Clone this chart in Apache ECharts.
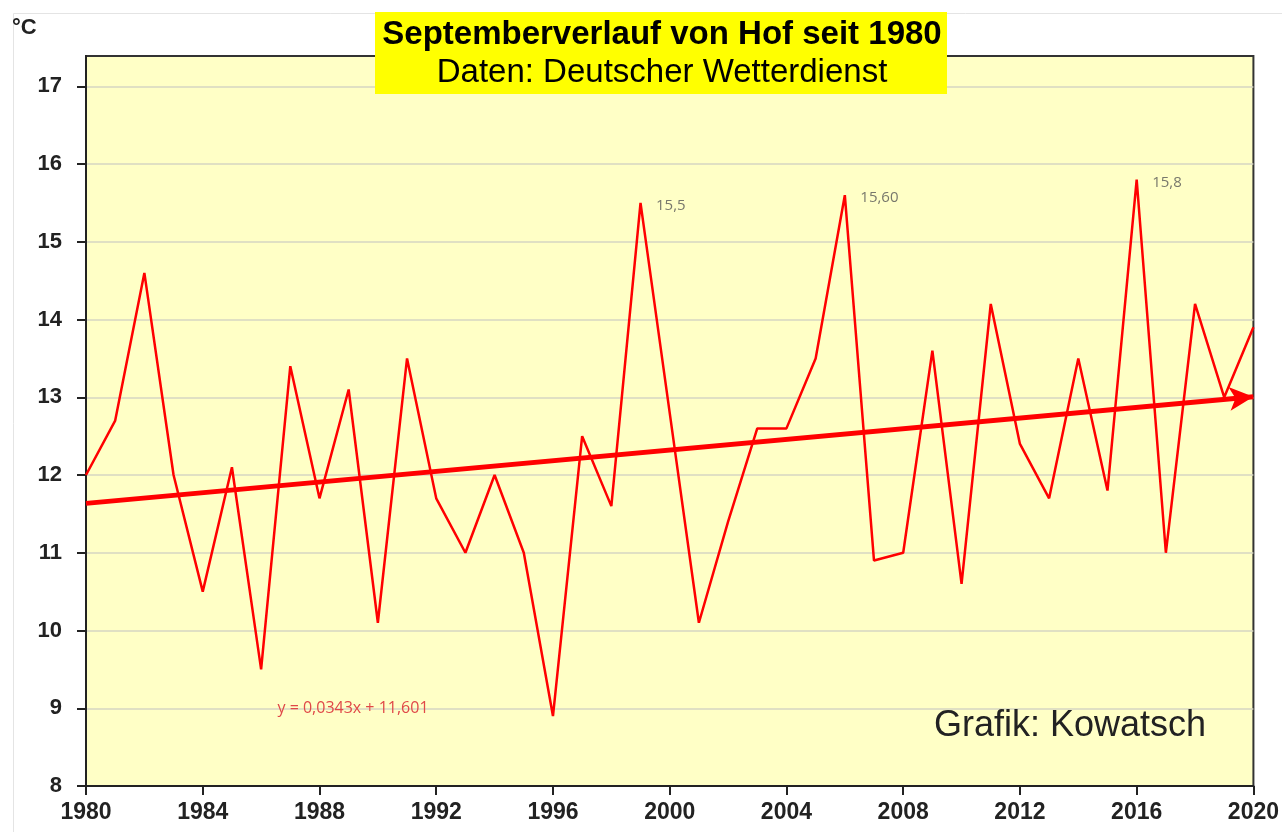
<!DOCTYPE html>
<html>
<head>
<meta charset="utf-8">
<script src="https://cdn.jsdelivr.net/npm/echarts@6/dist/echarts.min.js"></script>
<style>
html,body{margin:0;padding:0;background:#fff;}
#chart{width:1282px;height:832px;}
</style>
</head>
<body>
<div id="chart"></div>
<script>
// ---- data ----
const years = [1980,1981,1982,1983,1984,1985,1986,1987,1988,1989,
               1990,1991,1992,1993,1994,1995,1996,1997,1998,1999,
               2000,2001,2002,2003,2004,2005,2006,2007,2008,2009,
               2010,2011,2012,2013,2014,2015,2016,2017,2018,2019,2020];
const temps = [12.0,12.7,14.6,12.0,10.5,12.1,9.5,13.4,11.7,13.1,
               10.1,13.5,11.7,11.0,12.0,11.0,8.9,12.5,11.6,15.5,
               12.8,10.1,11.4,12.6,12.6,13.5,15.6,10.9,11.0,13.6,
               10.6,14.2,12.4,11.7,13.5,11.8,15.8,11.0,14.2,13.0,13.9];
const peakLabelYears = [1999, 2006, 2016];
const peakLabelTexts = ['15,5', '15,60', '15,8'];
const trendSlope = 0.0343;
const trendIntercept = 11.601;
const yTicks = [8,9,10,11,12,13,14,15,16,17];
const titleText = 'Septemberverlauf von Hof seit 1980';
const subtitleText = 'Daten: Deutscher Wetterdienst';
const equationText = 'y = 0,0343x + 11,601';
const creditText = 'Grafik: Kowatsch';
const unitText = '°C';

// ---- build ----
const lineData = years.map((y, i) => [y, temps[i]]);
const peakData = peakLabelYears.map((y, k) => ({
  value: [y, temps[years.indexOf(y)]],
  labelText: peakLabelTexts[k]
}));
const firstIdx = 1, lastIdx = years.length;
const trendStart = trendSlope * firstIdx + trendIntercept;
const trendEnd = trendSlope * lastIdx + trendIntercept;

const chart = echarts.init(document.getElementById('chart'), null, {renderer: 'canvas'});
chart.setOption({
  animation: false,
  backgroundColor: '#fff',
  grid: {
    left: 86, right: 28, top: 56, bottom: 46,
    show: true, backgroundColor: '#FFFFC6', borderColor: '#333', borderWidth: 2
  },
  xAxis: {
    type: 'value', min: 1980, max: 2020, interval: 4,
    axisLine: {show: true, onZero: false, lineStyle: {color: '#222', width: 2}},
    axisTick: {show: true, length: 9, lineStyle: {color: '#222', width: 2}},
    splitLine: {show: false},
    axisLabel: {
      color: '#222', fontSize: 23, fontWeight: 'bold', margin: 15,
      fontFamily: 'Liberation Sans, Arial, sans-serif',
      formatter: v => String(v)
    }
  },
  yAxis: {
    type: 'value', min: 8, max: 17.39, interval: 1,
    axisLine: {show: true, lineStyle: {color: '#222', width: 2}},
    axisTick: {show: true, length: 9, customValues: yTicks, lineStyle: {color: '#222', width: 2}},
    splitLine: {show: true, lineStyle: {color: '#D6D6C2', width: 1.5}},
    axisLabel: {
      color: '#222', fontSize: 22, fontWeight: 'bold', margin: 24,
      fontFamily: 'Liberation Sans, Arial, sans-serif',
      customValues: yTicks,
      formatter: v => (Number.isInteger(v) ? String(v) : '')
    }
  },
  series: [
    {
      type: 'line', data: lineData, symbol: 'none', z: 3,
      lineStyle: {color: '#FF0000', width: 2.5}
    },
    {
      type: 'scatter', data: peakData, symbolSize: 1, z: 5,
      itemStyle: {color: 'rgba(0,0,0,0)'},
      label: {
        show: true, position: 'right', distance: 15, offset: [0, 3],
        formatter: p => p.data.labelText,
        color: '#555', fontSize: 15, fontFamily: 'Open Sans, sans-serif'
      }
    },
    {
      type: 'line', data: [], z: 4,
      markLine: {
        silent: true,
        symbol: ['none', 'arrow'],
        symbolSize: [18, 24],
        label: {show: false},
        lineStyle: {color: '#FF0000', width: 5, type: 'solid'},
        data: [[{coord: [years[0], trendStart]}, {coord: [years[years.length - 1], trendEnd]}]]
      }
    }
  ],
  graphic: [
    {type: 'rect', left: 11, top: 11, shape: {width: 1300, height: 900},
     style: {fill: 'none', stroke: '#E4E4E4', lineWidth: 1}, z: 0, silent: true},
    {type: 'text', left: 12, top: 17,
     style: {text: unitText, fill: '#222', font: 'bold 22px "Liberation Sans", Arial, sans-serif'}},
    {type: 'rect', left: 375, top: 12, shape: {width: 572, height: 82},
     style: {fill: '#FFFF00'}, z: 10},
    {type: 'text', x: 662, y: 35, z: 11,
     style: {text: titleText, fill: '#000', align: 'center', verticalAlign: 'middle',
             font: 'bold 33px "Liberation Sans", Arial, sans-serif'}},
    {type: 'text', x: 662, y: 73, z: 11,
     style: {text: subtitleText, fill: '#000', align: 'center', verticalAlign: 'middle',
             font: '33px "Liberation Sans", Arial, sans-serif'}},
    {type: 'text', x: 353, y: 708, z: 11,
     style: {text: equationText, fill: '#E04848', align: 'center', verticalAlign: 'middle',
             font: '16px "Open Sans", sans-serif'}},
    {type: 'text', x: 1070, y: 726, z: 11,
     style: {text: creditText, fill: '#222', align: 'center', verticalAlign: 'middle',
             font: '36px "Liberation Sans", Arial, sans-serif'}}
  ]
});
</script>
</body>
</html>
